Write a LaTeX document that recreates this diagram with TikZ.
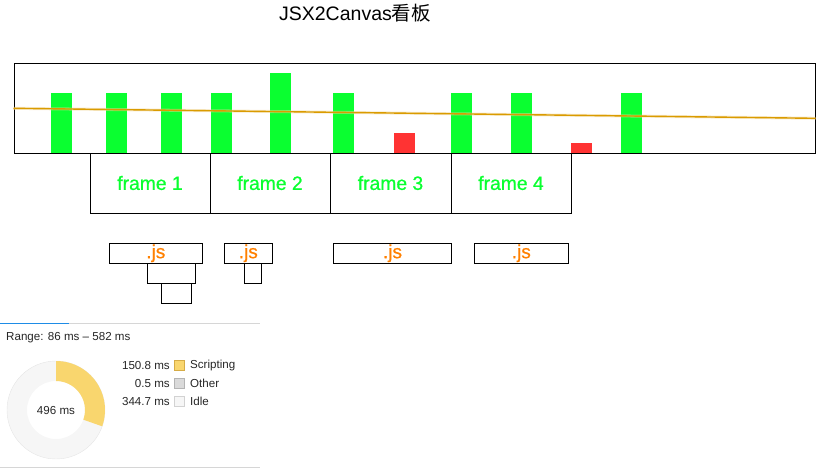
\documentclass[tikz,border=0pt]{standalone}
\usepackage{fontspec}
\setmainfont{Liberation Sans}
\newfontfamily\cjk{Noto Sans CJK SC}
\newfontfamily\medfont[FakeBold=0.8]{Liberation Sans}
\usetikzlibrary{calc}
\definecolor{gbar}{RGB}{10,255,48}
\definecolor{rbar}{RGB}{255,51,51}
\definecolor{trend}{RGB}{218,155,0}
\definecolor{jsorange}{RGB}{255,128,0}
\definecolor{scriptc}{RGB}{249,214,110}
\definecolor{scriptb}{RGB}{214,172,70}
\definecolor{otherc}{RGB}{218,218,218}
\definecolor{otherb}{RGB}{180,180,180}
\definecolor{idlec}{RGB}{246,246,246}
\definecolor{idleb}{RGB}{210,210,210}
\definecolor{panelline}{RGB}{214,214,214}
\definecolor{tabblue}{RGB}{30,140,230}
\tikzset{
  framebox/.style={draw=black, line width=1pt, minimum width=120pt, minimum height=60pt, inner sep=0pt, text=gbar, font=\medfont\fontsize{19.3}{21}\selectfont},
  jsbox/.style={draw=black, line width=1pt, minimum height=20pt, inner sep=0pt, text=jsorange, font=\medfont\fontsize{19}{21}\selectfont},
  subbox/.style={draw=black, line width=1pt, minimum height=20pt, inner sep=0pt},
  gb/.style={fill=gbar},
  rb/.style={fill=rbar},
  small/.style={font=\fontsize{11.6}{13}\selectfont, text=black!85, inner sep=0pt},
  legsq/.style={line width=0.8pt, minimum size=10pt, inner sep=0pt}
}
\begin{document}
\begin{tikzpicture}[x=1pt,y=-1pt]
\useasboundingbox (0,0) rectangle (818,472);
% title
\node[font=\fontsize{19.5}{21}\selectfont, inner sep=0pt] (title) at (355,13) {JSX2Canvas{\cjk 看板}};
% bars
\fill[gb] (51,93) rectangle (72,154);
\fill[gb] (106,93) rectangle (127,154);
\fill[gb] (161,93) rectangle (182,154);
\fill[gb] (211,93) rectangle (232,154);
\fill[gb] (270,73) rectangle (291,154);
\fill[gb] (333,93) rectangle (354,154);
\fill[rb] (394,133) rectangle (415,154);
\fill[gb] (451,93) rectangle (472,154);
\fill[gb] (511,93) rectangle (532,154);
\fill[rb] (571,143) rectangle (592,154);
\fill[gb] (621,93) rectangle (642,154);
% outer box
\node[draw=black, line width=1pt, minimum width=801pt, minimum height=90pt, inner sep=0pt] (chart) at (414.5,108) {};
% trend line
\draw[trend!40, line width=3pt, opacity=0.5] (chart.west |- 0,108.3) -- (chart.east |- 0,118.3);
\draw[trend, line width=1.4pt] (chart.west |- 0,108.3) -- (chart.east |- 0,118.3);
% frames
\node[framebox] (f1) at (150,183) {frame 1};
\node[framebox] (f2) at (270,183) {frame 2};
\node[framebox, minimum width=121pt] (f3) at (390.5,183) {frame 3};
\node[framebox] (f4) at (511,183) {frame 4};
% js boxes
\node[jsbox, minimum width=93pt] (js1) at (155.8,253.3) {.js};
\node[subbox, minimum width=48pt] (js1a) at (171.3,273.3) {};
\node[subbox, minimum width=30pt] (js1b) at (176.5,293.3) {};
\node[jsbox, minimum width=48pt] (js2) at (248.3,253.3) {.js};
\node[subbox, minimum width=17.4pt] (js2a) at (253,273.3) {};
\node[jsbox, minimum width=118.4pt] (js3) at (392.5,253.3) {.js};
\node[jsbox, minimum width=94pt] (js4) at (521.3,253.3) {.js};
% summary panel
\draw[panelline, line width=1pt] (0,323.5) -- (260,323.5);
\draw[tabblue, line width=1.4pt] (0,323.2) -- (69,323.2);
\draw[panelline, line width=1.5pt] (0,467.5) -- (260,467.5);
\node[small, anchor=west] (range) at (6,338) {Range: 86 ms – 582 ms};
\begin{scope}[shift={(56,410)}, y=1pt]
  \fill[idlec, even odd rule] (0,0) circle (49) (0,0) circle (29);
  \draw[black!10, line width=0.4pt] (0,0) circle (49);
  \fill[scriptc] (90:49) arc (90:-19.45:49) -- (-19.45:29) arc (-19.45:90:29) -- cycle;
\end{scope}
\node[small] (total) at (56,410) {496 ms};
\node[small, anchor=east] (v1) at (170,365) {150.8 ms};
\node[small, anchor=east] (v2) at (170,383) {0.5 ms};
\node[small, anchor=east] (v3) at (170,401) {344.7 ms};
\node[legsq, fill=scriptc, draw=scriptb] (s1) at (179.5,365) {};
\node[legsq, fill=otherc, draw=otherb] (s2) at (179.5,383) {};
\node[legsq, fill=idlec, draw=idleb] (s3) at (179.5,401) {};
\node[small, anchor=west] (l1) at (190,365) {Scripting};
\node[small, anchor=west] (l2) at (190,383) {Other};
\node[small, anchor=west] (l3) at (190,401) {Idle};
\end{tikzpicture}
\end{document}
